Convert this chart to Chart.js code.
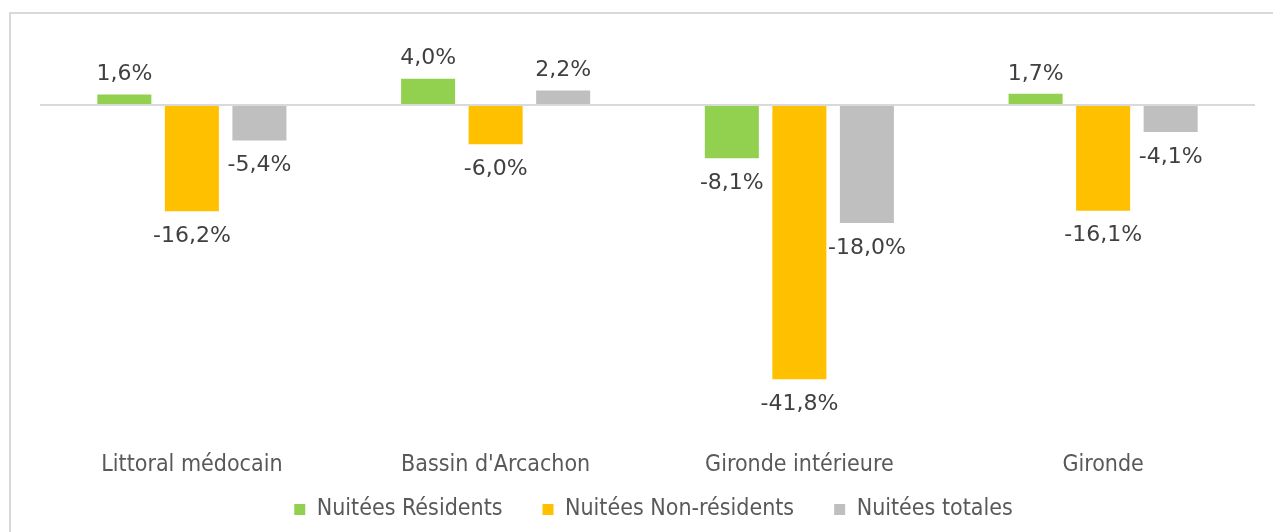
<!DOCTYPE html>
<html>
<head>
<meta charset="utf-8">
<script src="https://cdn.jsdelivr.net/npm/chart.js@4/dist/chart.umd.min.js"></script>
<style>
  html, body { margin: 0; padding: 0; background: #ffffff; overflow: hidden; }
  #frame { position: absolute; left: 9px; top: 12px; width: 1300px; height: 600px; border: 2px solid #d9d9d9; box-sizing: border-box; }
  #c { position: absolute; left: 0; top: 0; }
</style>
</head>
<body>
<div id="frame"></div>
<canvas id="c" width="1273" height="532"></canvas>
<script>
const categories = ["Littoral médocain", "Bassin d'Arcachon", "Gironde intérieure", "Gironde"];
const seriesNames = ["Nuitées Résidents", "Nuitées Non-résidents", "Nuitées totales"];
const residents = [1.6, 4.0, -8.1, 1.7];
const nonResidents = [-16.2, -6.0, -41.8, -16.1];
const totals = [-5.4, 2.2, -18.0, -4.1];
const seriesColors = ["#92D050", "#FFC000", "#BFBFBF"];

const labelFont = '"DejaVu Sans Condensed", "Liberation Sans", sans-serif';

function fmt(v) { return v.toFixed(1).replace('.', ',') + '%'; }

const valueLabels = {
  id: 'valueLabels',
  afterDatasetsDraw(chart) {
    const ctx = chart.ctx;
    ctx.save();
    ctx.font = '22px "DejaVu Sans", sans-serif';
    ctx.fillStyle = '#404040';
    ctx.textAlign = 'center';
    ctx.textBaseline = 'middle';
    chart.data.datasets.forEach((ds, i) => {
      const meta = chart.getDatasetMeta(i);
      meta.data.forEach((bar, j) => {
        const v = ds.data[j];
        const y = v >= 0 ? bar.y - 20 : bar.y + 25;
        ctx.fillText(fmt(v), bar.x, y);
      });
    });
    ctx.restore();
  }
};

// moves the legend block up (close under the category labels) and slightly right
const legendShift = {
  id: 'legendShift',
  afterLayout(chart) {
    const lg = chart.legend;
    if (lg) { lg.top -= 20; lg.bottom -= 20; lg.left += 6; lg.right += 6; }
  }
};

new Chart(document.getElementById('c'), {
  type: 'bar',
  data: {
    labels: categories,
    datasets: [
      { label: seriesNames[0], data: residents, backgroundColor: seriesColors[0] },
      { label: seriesNames[1], data: nonResidents, backgroundColor: seriesColors[1] },
      { label: seriesNames[2], data: totals, backgroundColor: seriesColors[2] }
    ]
  },
  options: {
    responsive: false,
    animation: false,
    events: [],
    datasets: { bar: { categoryPercentage: 0.667, barPercentage: 0.8, borderWidth: 0 } },
    layout: { padding: { top: 65.6, left: 40, right: 18, bottom: -19 } },
    plugins: {
      tooltip: { enabled: false },
      legend: {
        position: 'bottom',
        labels: {
          boxWidth: 11, boxHeight: 11, padding: 40,
          color: '#595959',
          font: { family: labelFont, size: 23 }
        }
      }
    },
    scales: {
      x: {
        afterFit(s) { s.height = 58; },
        grid: { display: false, drawTicks: false },
        border: { display: false },
        ticks: { color: '#595959', padding: 31, font: { family: labelFont, size: 23 } }
      },
      y: {
        min: -48, max: 6,
        afterFit(s) { s.width = 0; },
        ticks: { display: false, stepSize: 2 },
        border: { display: false },
        grid: {
          drawTicks: false,
          lineWidth: 2,
          color: (c) => (c.tick && c.tick.value === 0) ? '#d9d9d9' : 'rgba(0,0,0,0)'
        }
      }
    }
  },
  plugins: [valueLabels, legendShift]
});
</script>
</body>
</html>
